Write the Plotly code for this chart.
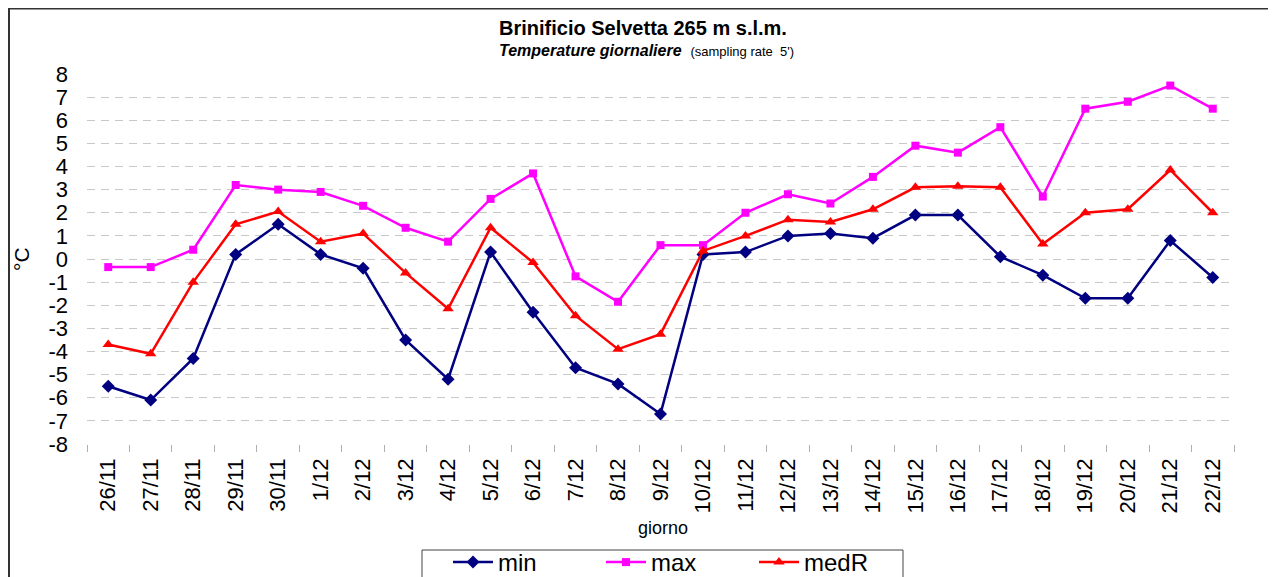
import plotly.graph_objects as go

days = ["26/11", "27/11", "28/11", "29/11", "30/11", "1/12", "2/12", "3/12", "4/12",
        "5/12", "6/12", "7/12", "8/12", "9/12", "10/12", "11/12", "12/12", "13/12",
        "14/12", "15/12", "16/12", "17/12", "18/12", "19/12", "20/12", "21/12", "22/12"]
t_min = [-5.5, -6.1, -4.3, 0.2, 1.5, 0.2, -0.4, -3.5, -5.2,
         0.3, -2.3, -4.7, -5.4, -6.7, 0.2, 0.3, 1.0, 1.1,
         0.9, 1.9, 1.9, 0.1, -0.7, -1.7, -1.7, 0.8, -0.8]
t_max = [-0.35, -0.35, 0.4, 3.2, 3.0, 2.9, 2.3, 1.35, 0.75,
         2.6, 3.7, -0.75, -1.85, 0.6, 0.6, 2.0, 2.8, 2.4,
         3.55, 4.9, 4.6, 5.7, 2.7, 6.5, 6.8, 7.5, 6.5]
t_med = [-3.7, -4.1, -1.0, 1.5, 2.05, 0.75, 1.1, -0.6, -2.15,
         1.35, -0.15, -2.45, -3.9, -3.25, 0.35, 1.0, 1.7, 1.6,
         2.15, 3.1, 3.15, 3.1, 0.65, 2.0, 2.15, 3.85, 2.0]
y_ticks = list(range(-8, 9))

# page offset (default body margin) compensation
OFF = 8
W, H = 1276 - OFF, 577 - OFF
# plot area in page pixels: x 87..1234, y 74..444
PL, PR, PT, PB = 87, 1234, 74, 444
ML, MR, MT, MB = PL - OFF, W - (PR - OFF), PT - OFF, H - (PB - OFF)
PW, PH = PR - PL, PB - PT

def px(p):
    return (p - PL) / PW

def py(p):
    return (PB - p) / PH

FONT = "Liberation Sans, Arial, sans-serif"

fig = go.Figure()
fig.add_trace(go.Scatter(x=days, y=t_min, name="min", mode="lines+markers",
                         line=dict(color="#000080", width=2.5),
                         marker=dict(symbol="diamond", size=10, color="#000080")))
fig.add_trace(go.Scatter(x=days, y=t_max, name="max", mode="lines+markers",
                         line=dict(color="#FF00FF", width=2.5),
                         marker=dict(symbol="square", size=8, color="#FF00FF")))
fig.add_trace(go.Scatter(x=days, y=t_med, name="medR", mode="lines+markers",
                         line=dict(color="#FF0000", width=2.5),
                         marker=dict(symbol="triangle-up", size=10, color="#FF0000")))

fig.update_layout(
    width=W, height=H,
    margin=dict(l=ML, r=MR, t=MT, b=MB, pad=0, autoexpand=False),
    paper_bgcolor="white", plot_bgcolor="white",
    font=dict(family=FONT, color="black"),
    showlegend=True,
    legend=dict(orientation="h", x=px(448), y=py(540), xanchor="left", yanchor="top",
                borderwidth=0, bgcolor="rgba(0,0,0,0)",
                font=dict(size=24, family=FONT), entrywidth=98, entrywidthmode="pixels",
                itemwidth=40, tracegroupgap=0),
    xaxis=dict(type="category", range=[-0.5, len(days) - 0.5], tickangle=-90,
               tickson="boundaries", ticks="outside", ticklen=7, tickcolor="#b0b0b0",
               showgrid=False, showline=False, zeroline=False, automargin=False,
               ticklabelstandoff=9,
               tickfont=dict(size=22, family=FONT), fixedrange=True),
    yaxis=dict(range=[-8, 8], tickmode="array", tickvals=y_ticks,
               ticktext=[str(v) for v in y_ticks],
               showgrid=True, gridcolor="#c8c8c8", gridwidth=1, griddash="8px,6px",
               zeroline=False, showline=False, ticks="", automargin=False,
               ticklabelstandoff=18,
               tickfont=dict(size=22, family=FONT), fixedrange=True),
    shapes=[
        dict(type="rect", xref="paper", yref="paper",
             x0=px(OFF + 1), x1=px(1300), y0=py(620), y1=py(OFF + 0.5),
             line=dict(color="#333333", width=2), layer="below"),
        dict(type="rect", xref="paper", yref="paper",
             x0=px(422), x1=px(903), y0=py(600), y1=py(550),
             line=dict(color="#444444", width=1), layer="below"),
    ],
    annotations=[
        dict(text="<b>Brinificio Selvetta 265 m s.l.m.</b>", xref="paper", yref="paper",
             x=px(643), y=py(28), xanchor="center", yanchor="middle", showarrow=False,
             font=dict(size=20, family=FONT)),
        dict(text="<b><i>Temperature giornaliere</i></b>  <span style='font-size:13px'>(sampling rate  5')</span>",
             xref="paper", yref="paper", x=px(646), y=py(51), xanchor="center",
             yanchor="middle", showarrow=False, font=dict(size=16, family=FONT)),
        dict(text="giorno", xref="paper", yref="paper", x=px(663), y=py(528),
             xanchor="center", yanchor="middle", showarrow=False,
             font=dict(size=18, family=FONT)),
        dict(text="°C", xref="paper", yref="paper", x=px(21), y=py(259),
             xanchor="center", yanchor="middle", showarrow=False, textangle=-90,
             font=dict(size=21, family=FONT)),
    ],
)

fig.write_html("out.html")
